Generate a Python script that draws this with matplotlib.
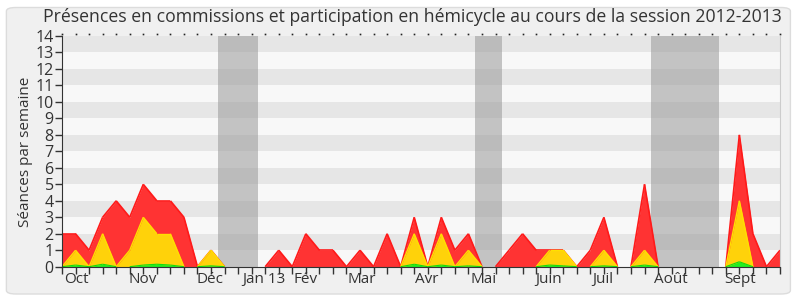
import matplotlib
matplotlib.use("Agg")
import matplotlib.pyplot as plt
from matplotlib.collections import LineCollection
from matplotlib.patches import FancyBboxPatch
import numpy as np

plt.rcParams["font.family"] = ["Open Sans", "DejaVu Sans"]

# weekly values, session 2012-2013 (54 weeks)
total = [2, 2, 1, 3, 4, 3, 5, 4, 4, 3, 0, 1, 0, 0, 0, 0, 1, 0, 2, 1,
         1, 0, 1, 0, 2, 0, 3, 0, 3, 1, 2, 0, 0, 1, 2, 1, 1, 1, 0, 1,
         3, 0, 0, 5, 0, 0, 0, 0, 0, 0, 8, 2, 0, 1]
hemicycle = [0, 1, 0, 2, 0, 1, 3, 2, 2, 0, 0, 1, 0, 0, 0, 0, 0, 0, 0, 0,
             0, 0, 0, 0, 0, 0, 2, 0, 2, 0, 1, 0, 0, 0, 0, 0, 1, 1, 0, 0,
             1, 0, 0, 1, 0, 0, 0, 0, 0, 0, 4, 0, 0, 0]
green = [0, 0.1, 0, 0.15, 0, 0, 0.1, 0.15, 0.1, 0, 0, 0.05, 0, 0, 0, 0, 0, 0, 0, 0,
         0, 0, 0, 0, 0, 0, 0.15, 0, 0.1, 0, 0.05, 0, 0, 0, 0, 0, 0.1, 0.05, 0, 0,
         0.05, 0, 0, 0.1, 0, 0, 0, 0, 0, 0, 0.3, 0, 0, 0]
months = ["Oct", "Nov", "Déc", "Jan 13", "Fév", "Mar", "Avr", "Mai", "Juin", "Juil", "Août", "Sept"]
month_pos = [1.05, 5.95, 10.9, 14.9, 17.95, 22.1, 26.9, 31.1, 35.9, 39.9, 44.95, 50.05]
vacations = [(11.5, 14.5), (30.5, 32.5), (43.5, 48.5)]

weeks = np.arange(len(total))
txt = "#333333"


def outline(ax, vals, color, lw, z):
    # draw the top edge only where the series is above zero
    segs = [[(i, vals[i]), (i + 1, vals[i + 1])] for i in range(len(vals) - 1)
            if vals[i] > 0 or vals[i + 1] > 0]
    ax.add_collection(LineCollection(segs, colors=color, linewidths=lw, zorder=z))


fig = plt.figure(figsize=(8, 3), dpi=100, facecolor="white")
fig.patches.append(FancyBboxPatch((0.008, 0.02), 0.98, 0.955, boxstyle="round,pad=0,rounding_size=0.012",
                                  transform=fig.transFigure, facecolor="#f0f0f0", edgecolor="#dcdcdc",
                                  linewidth=1, zorder=-10))
ax = fig.add_axes([0.0775, 0.111, 0.8975, 0.769])
ax.set_facecolor("#f8f8f8")

for y in range(0, 14):
    if y % 2 == 1:
        ax.axhspan(y, y + 1, color="#e6e6e6", lw=0, zorder=0)
for a, b in vacations:
    ax.axvspan(a, b, color="#999999", alpha=0.55, lw=0, zorder=1)

ax.fill_between(weeks, total, color="#ff3333", lw=0, zorder=2)
outline(ax, total, "#ff1a1a", 1.2, 3)
ax.fill_between(weeks, hemicycle, color="#ffd20a", lw=0, zorder=4)
outline(ax, hemicycle, "#ffe000", 1, 5)
ax.fill_between(weeks, green, color="#22ee22", lw=0, zorder=6)
outline(ax, green, "#11dd11", 0.8, 7)

ax.set_xlim(0, len(total) - 1)
ax.set_ylim(0, 14)
ax.set_yticks(range(15))
ax.set_yticklabels([str(v) for v in range(15)], fontsize=11.5, color=txt)
ax.set_xticks(weeks)
ax.set_xticklabels([])
ax.set_xticks(month_pos, minor=True)
ax.set_xticklabels(months, minor=True, fontsize=11, color=txt)
ax.tick_params(axis="x", which="minor", length=0, pad=4)
ax.tick_params(axis="x", which="major", length=5, width=1, color="#333333")
ax.tick_params(axis="y", length=5, width=1, color="#333333", pad=1)

ax.spines["top"].set_visible(False)
ax.spines["right"].set_color("#cccccc")
ax.spines["left"].set_color("#333333")
ax.spines["bottom"].set_color("#333333")
for sp in ax.spines.values():
    sp.set_zorder(10)

# dotted marks along the top edge
ax.plot(weeks, [14.15] * len(weeks), ls="none", marker="s", ms=1.2, mew=0, color="#222222", clip_on=False)

ax.set_ylabel("Séances par semaine", fontsize=11, color=txt, labelpad=2)
fig.text(0.515, 0.945, "Présences en commissions et participation en hémicycle au cours de la session 2012-2013",
         ha="center", va="center", fontsize=12.7, color=txt)

fig.savefig("out.png", dpi=100)
